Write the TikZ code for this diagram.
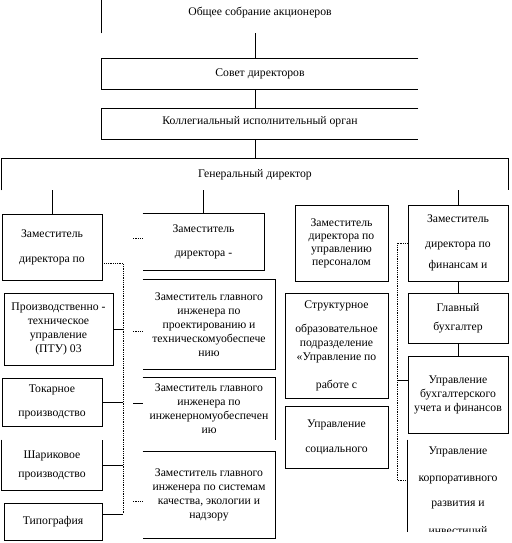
\documentclass[tikz,border=0pt]{standalone}
\usepackage{fontspec}
\setmainfont{Liberation Serif}
\usetikzlibrary{positioning, calc}

\begin{document}
\begin{tikzpicture}[
    x=1pt, y=-1pt,
    unit/.style={draw, rectangle, align=center, inner sep=0pt, line width=0.8pt, font=\fontsize{11.7}{14}\selectfont},
    bare/.style={unit, draw=none},
    rim/.style={line width=0.8pt},
    link/.style={line width=0.8pt},
    dotlink/.style={line width=0.8pt, densely dotted}
]
\useasboundingbox (0,0) rectangle (511,543);

% Top: governing bodies
\node[bare, minimum width=316pt, minimum height=33pt] (gsa) at (260,16.5) {\raisebox{4pt}[\height][\depth]{Общее собрание акционеров}};
\node[bare, minimum width=316pt, minimum height=30pt] (sd) at (260,74) {Совет директоров};
\node[bare, minimum width=316pt, minimum height=30pt] (kio) at (260,124) {\raisebox{2pt}[\height][\depth]{Коллегиальный исполнительный орган}};
\node[bare, minimum width=506pt, minimum height=31pt] (gd) at (255,174.5) {Генеральный директор};

% Column 1: production units
\node[unit, minimum width=100pt, minimum height=66pt] (L1) at (52,247) {Заместитель\\[11pt]директора по};
\node[unit, minimum width=109pt, minimum height=72pt] (L2) at (58.5,329) {Производственно -\\техническое\\управление\\(ПТУ) 03};
\node[unit, minimum width=100pt, minimum height=48pt] (L3) at (52,402) {Токарное\\[10pt]производство};
\node[bare, minimum width=100pt, minimum height=50pt] (L4) at (52,465) {Шариковое\\[5pt]производство};
\node[unit, minimum width=98pt, minimum height=37pt] (L5) at (53,521.5) {Типография};

% Column 2: deputies of the chief engineer
\node[bare, minimum width=121pt, minimum height=56pt] (M1) at (203.5,242) {Заместитель\\[10pt]директора -};
\node[bare, minimum width=132pt, minimum height=89pt] (M2) at (209,324.5) {Заместитель главного\\инженера по\\проектированию и\\техническомуобеспече\\нию};
\node[bare, minimum width=132pt, minimum height=62pt] (M3) at (209,409) {Заместитель главного\\инженера по\\инженерномуобеспечен\\ию};
\node[bare, minimum width=132pt, minimum height=86pt] (M4) at (209,495) {Заместитель главного\\инженера по системам\\качества, экологии и\\надзору};

% Column 3: personnel
\node[unit, minimum width=93pt, minimum height=76pt] (C1) at (341.5,243) {Заместитель\\[-1pt]директора по\\[-1pt]управлению\\[-1pt]персоналом};
\node[unit, minimum width=103pt, minimum height=105pt] (C2) at (336.5,345.5) {Структурное\\[10pt]образовательное\\подразделение\\«Управление по\\[14pt]работе с};
\node[unit, minimum width=103pt, minimum height=62pt] (C3) at (336.5,437) {Управление\\[11pt]социального};

% Column 4: finance
\node[unit, minimum width=100pt, minimum height=76pt] (R1) at (458,243) {Заместитель\\[11pt]директора по\\[7pt]финансам и};
\node[unit, minimum width=100pt, minimum height=50pt] (R2) at (458,318) {Главный\\[5pt]бухгалтер};
\node[unit, minimum width=100pt, minimum height=77pt] (R3) at (458,394.5) {Управление\\бухгалтерского\\учета и финансов};
\begin{scope}
\clip (400,430) rectangle (511,531);
\node[bare, minimum width=100pt, minimum height=103pt] (R4) at (458,491.5) {Управление\\[13pt]корпоративного\\[11pt]развития и\\[14pt]инвестиций};
\draw[rim] (R4.north west) -- (R4.south west);
\end{scope}

% Open box outlines
\draw[rim] (gsa.south west) -- (gsa.north west) -- (gsa.north east);
\draw[rim] (sd.north east) -- (sd.north west) -- (sd.south west) -- (sd.south east);
\draw[rim] (kio.north east) -- (kio.north west) -- (kio.south west) -- (kio.south east);
\draw[rim] (gd.south west) -- (gd.north west) -- (gd.north east) -- (gd.south east);
\draw[rim] (L4.north west) -- (L4.south west) -- (L4.south east) -- (L4.north east);
\draw[rim] (M1.north west) -- (M1.north east) -- (M1.south east) -- (M1.south west);
\draw[rim] (M2.north west) -- (M2.north east) -- (M2.south east) -- (M2.south west);
\draw[rim] (M3.north west) -- (M3.north east) -- (M3.south east);
\draw[rim] (M4.north west) -- (M4.north east) -- (M4.south east) -- (M4.south west);

% Vertical chain
\draw[link] (gsa.south -| gd) -- (sd.north -| gd);
\draw[link] (sd.south -| gd) -- (kio.north -| gd);
\draw[link] (kio.south -| gd) -- (gd.north);
\draw[link] (gd.south -| L1) -- (L1.north);
\draw[link] (gd.south -| M1) -- (M1.north);
\draw[link] (gd.south -| R1) -- (R1.north);
\draw[link] (R1) -- (R2);
\draw[link] (R2) -- (R3);

% Left bus
\coordinate (lbusTop) at (123,263);
\coordinate (lbusEnd) at (123,514);
\draw[dotlink] (L1.east |- lbusTop) -- (lbusTop) -- (lbusEnd);
\draw[link] (L2.east) -- (L2.east -| lbusTop);
\draw[link] (L3.east) -- (L3.east -| lbusTop);
\draw[link] (L4.east) -- (L4.east -| lbusTop);
\draw[link] (L5.east |- lbusEnd) -- (lbusEnd);

% Stubs before column 2
\draw[dotlink] ($(M1.west)+(0,-4)$) -- ++(-10,0);
\draw[dotlink] ($(M2.west)+(0,6.5)$) -- ++(-10,0);
\draw[link] ($(M3.west)+(0,-6)$) -- ++(-10,0);
\draw[dotlink] ($(M4.west)+(0,6)$) -- ++(-10,0);

% Right bus
\coordinate (rbusEnd) at (397,480);
\coordinate (rjoin) at (397,380);
\draw[dotlink] (R1.west) -- (R1.west -| rbusEnd) -- (rbusEnd) -- (rbusEnd -| R4.west);
\draw[link] (rjoin) -- (rjoin -| R3.west);

\end{tikzpicture}
\end{document}
